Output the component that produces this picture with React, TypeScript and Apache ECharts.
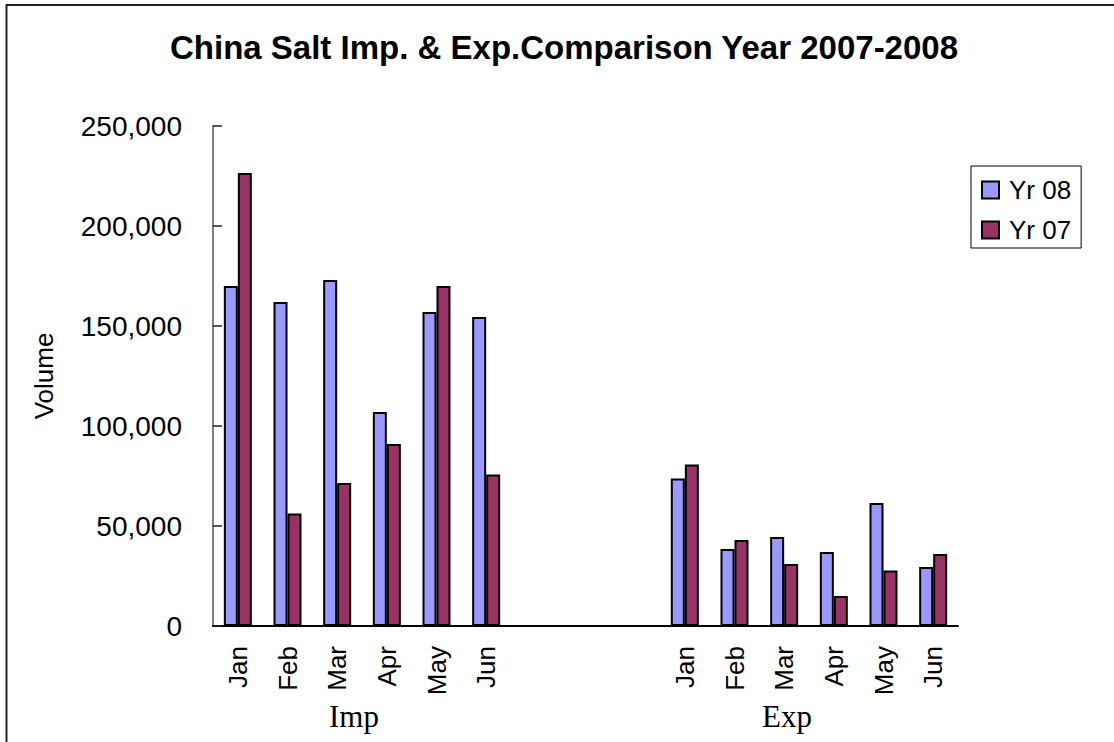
import React, { useEffect, useRef } from "react";
import * as echarts from "echarts";

const months = ["Jan", "Feb", "Mar", "Apr", "May", "Jun"];
const gapCount = 3;
const groupLabels = ["Imp", "Exp"];
const seriesNames = ["Yr 08", "Yr 07"];
const impYr08 = [170000, 162000, 173000, 107000, 157000, 154500];
const impYr07 = [226500, 56300, 71500, 91000, 170000, 75700];
const expYr08 = [73700, 38500, 44500, 37000, 61500, 29500];
const expYr07 = [80800, 43000, 31000, 15000, 27700, 36000];
const yTicks = { min: 0, max: 250000, interval: 50000 };

const SANS = "'Liberation Sans', Arial, sans-serif";
const SERIF = "'Liberation Serif', 'Times New Roman', serif";

const gap = Array.from({ length: gapCount }, () => "");
const categories = [...months, ...gap, ...months];
const gapNull = Array.from({ length: gapCount }, () => null);
const yr08 = [...impYr08, ...gapNull, ...expYr08];
const yr07 = [...impYr07, ...gapNull, ...expYr07];

export default function App() {
  const ref = useRef<HTMLDivElement>(null);
  useEffect(() => {
    if (!ref.current) return;
    const chart = echarts.init(ref.current, undefined, { renderer: "svg" });
    chart.setOption({
      animation: false,
      backgroundColor: "#ffffff",
      title: {
        text: "China Salt Imp. & Exp.Comparison Year 2007-2008",
        left: 170,
        top: 31,
        padding: 0,
        textStyle: { fontFamily: SANS, fontWeight: "bold", fontSize: 33, color: "#000" },
      },
      legend: {
        orient: "vertical",
        left: 971,
        top: 166,
        padding: [11, 10, 5, 10],
        itemGap: 14,
        itemWidth: 17,
        itemHeight: 17,
        icon: "rect",
        borderColor: "#000",
        borderWidth: 1,
        backgroundColor: "#fff",
        textStyle: { fontFamily: SANS, fontSize: 26, lineHeight: 26, color: "#000", padding: [0, 0, 0, 5] },
        data: seriesNames,
      },
      grid: { left: 213, top: 126, width: 745, height: 500, outerBoundsMode: "none" },
      xAxis: {
        type: "category",
        data: categories,
        axisLine: { lineStyle: { color: "#000", width: 2 } },
        axisTick: { inside: true, length: 7, interval: 0, lineStyle: { color: "#555", width: 1.5 } },
        axisLabel: { interval: 0, rotate: 90, margin: 20, fontFamily: SANS, fontSize: 26, color: "#000" },
        splitLine: { show: false },
      },
      yAxis: {
        type: "value",
        min: yTicks.min,
        max: yTicks.max,
        interval: yTicks.interval,
        name: "Volume",
        nameLocation: "middle",
        nameRotate: 90,
        nameGap: 156,
        nameTextStyle: { fontFamily: SANS, fontSize: 26, color: "#000" },
        axisLine: { show: true, lineStyle: { color: "#808080", width: 2 } },
        axisTick: { show: true, inside: true, length: 9, lineStyle: { color: "#222", width: 1.5 } },
        axisLabel: {
          margin: 31,
          fontFamily: SANS,
          fontSize: 28,
          color: "#000",
          formatter: (v: number) => v.toLocaleString("en-US"),
        },
        splitLine: { show: false },
      },
      series: [
        {
          name: seriesNames[0],
          type: "bar",
          data: yr08,
          barWidth: 14,
          barGap: "0%",
          itemStyle: { color: "#9999FF", borderColor: "#000", borderWidth: 2 },
        },
        {
          name: seriesNames[1],
          type: "bar",
          data: yr07,
          barWidth: 14,
          barGap: "0%",
          itemStyle: { color: "#993366", borderColor: "#000", borderWidth: 2 },
        },
      ],
      graphic: [
        {
          type: "rect",
          shape: { x: 6.5, y: 5, width: 1300, height: 900 },
          style: { fill: "none", stroke: "#222", lineWidth: 2 },
          silent: true,
        },
        {
          type: "text",
          x: 354,
          y: 716,
          style: { text: groupLabels[0], fontFamily: SERIF, fontSize: 31, fill: "#000", textAlign: "center", textVerticalAlign: "middle" },
        },
        {
          type: "text",
          x: 787,
          y: 716,
          style: { text: groupLabels[1], fontFamily: SERIF, fontSize: 31, fill: "#000", textAlign: "center", textVerticalAlign: "middle" },
        },
      ],
    });
    return () => chart.dispose();
  }, []);
  return (
    <div
      ref={ref}
      style={{ position: "fixed", left: 0, top: 0, width: 1114, height: 742, background: "#fff" }}
    />
  );
}
